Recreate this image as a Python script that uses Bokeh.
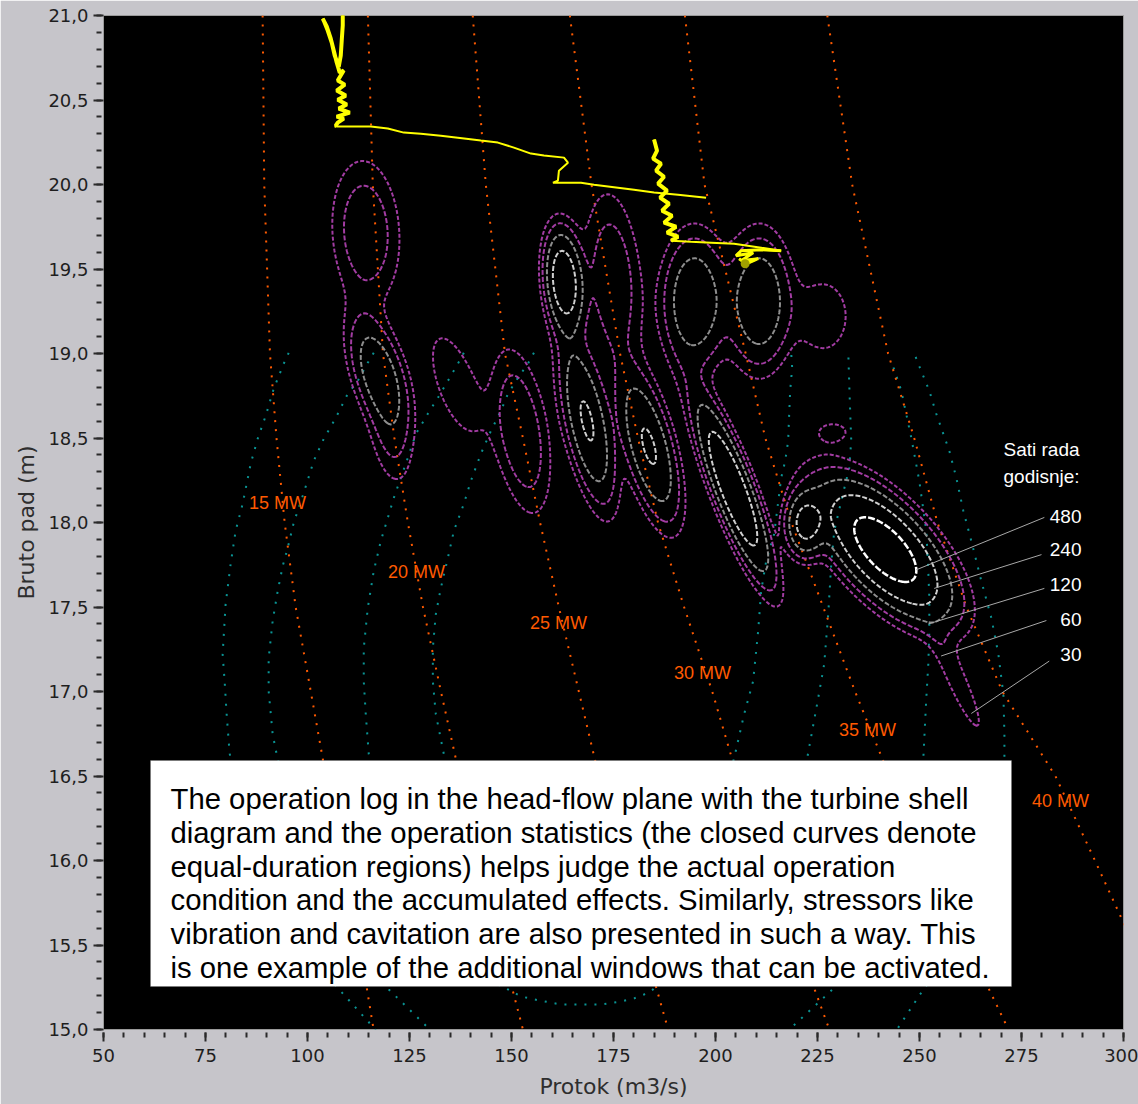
import numpy as np
from bokeh.plotting import figure
from bokeh.plotting.contour import contour_data
from bokeh.models import Range1d, FixedTicker, CustomJSTickFormatter, BoxAnnotation, Label
from bokeh.core.properties import value
from bokeh.embed import file_html
from bokeh.resources import INLINE

# ---------------- data ----------------
x_major = list(range(50, 301, 25))
x_minor = list(range(50, 301, 5))
y_major = [round(15.0 + 0.5 * i, 1) for i in range(13)]
y_minor = [round(15.0 + 0.1 * i, 1) for i in range(61)]

# iso-power lines: flow (m3/s) at given gross heads
power_heads = [21.0, 20.0, 19.0, 18.5, 18.0, 17.5, 17.0, 16.5, 16.0, 15.5, 15.0]
q_15mw = [89.0, 89.4, 90.8, 92.4, 94.4, 97.1, 100.8, 104.5, 108.4, 112.8, 116.2]
q_20mw = [114.8, 116.0, 118.5, 121.3, 124.6, 128.3, 132.7, 137.3, 142.5, 147.4, 152.8]
q_25mw = [140.5, 143.7, 148.4, 152.8, 157.0, 161.6, 166.5, 171.4, 176.8, 182.5, 188.4]
q_30mw = [164.3, 169.6, 176.6, 181.0, 185.9, 192.3, 199.2, 205.3, 212.9, 220.3, 227.9]
q_35mw = [192.5, 197.3, 207.4, 212.2, 218.6, 226.4, 234.2, 242.6, 252.3, 261.8, 271.8]
q_40mw = [227.4, 233.5, 242.3, 248.7, 254.4, 261.5, 270.3, 283.3, 293.0, 302.5, 312.0]
power_labels = ["15 MW", "20 MW", "25 MW", "30 MW", "35 MW", "40 MW"]

# turbine shell (efficiency) curves
shell1_q = [95.39, 94.16, 91.71, 89.75, 87.78, 86.07, 84.10, 82.38, 81.16, 79.93, 79.20, 79.69, 80.18, 80.91,
            86.07, 97.10, 108.88, 115.51, 117.96, 179.29, 241.86, 244.31, 250.94, 262.71, 268.84, 270.81,
            270.81, 270.56, 269.33, 267.62, 265.16, 262.71, 260.75, 259.03, 257.31, 255.84, 254.12, 252.41,
            249.71, 248.48]
shell1_h = [19.004, 18.939, 18.791, 18.631, 18.495, 18.347, 18.110, 17.950, 17.754, 17.517, 17.221, 17.061,
            16.866, 16.635, 15.995, 15.521, 15.207, 15.030, 14.959, 14.692, 14.929, 14.994, 15.237, 15.580,
            16.054, 16.605, 16.747, 16.984, 17.221, 17.434, 17.653, 17.890, 18.068, 18.264, 18.424, 18.524,
            18.643, 18.779, 18.939, 19.016]
shell2_q = [116.24, 114.77, 112.32, 109.86, 106.92, 103.98, 101.52, 99.07, 96.61, 95.14, 93.92, 92.69, 91.46,
            90.48, 90.48, 91.46, 92.44, 98.33, 110.60, 119.92, 130.23, 132.68, 184.20, 216.10, 217.81, 227.63,
            235.72, 245.54, 250.94, 251.67, 252.16, 252.41, 252.41, 252.16, 251.67, 249.95, 247.99, 245.54,
            243.08]
shell2_h = [19.004, 18.945, 18.838, 18.761, 18.619, 18.495, 18.364, 18.175, 17.997, 17.849, 17.742, 17.594,
            17.417, 17.197, 17.002, 16.747, 16.629, 15.995, 15.462, 15.237, 14.994, 14.929, 14.633, 14.929,
            14.994, 15.213, 15.403, 15.877, 16.605, 16.961, 17.162, 17.357, 17.553, 17.713, 17.950, 18.246,
            18.501, 18.779, 18.957]
shell3_q = [138.32, 136.85, 134.40, 131.94, 129.49, 126.55, 124.58, 122.87, 121.15, 119.68, 117.96, 116.24,
            114.77, 113.79, 113.79, 114.28, 115.02, 122.87, 135.13, 149.12, 152.31, 155.50, 162.12, 171.93,
            176.84, 180.03, 182.48, 184.69, 201.38, 216.10, 222.47, 225.17, 226.64, 227.63, 228.37, 229.10,
            230.82, 232.78, 233.27, 233.03, 232.78, 232.53]
shell3_h = [19.004, 18.939, 18.838, 18.737, 18.643, 18.524, 18.382, 18.264, 18.145, 18.027, 17.890, 17.713,
            17.494, 17.257, 17.061, 16.866, 16.629, 15.877, 15.403, 15.237, 15.196, 15.178, 15.148, 15.148,
            15.166, 15.184, 15.207, 15.237, 15.580, 16.054, 16.605, 16.961, 17.162, 17.458, 17.754, 17.950,
            18.127, 18.323, 18.483, 18.643, 18.820, 19.016]
shell4_q = [155.50, 154.02, 151.57, 149.12, 147.40, 144.95, 142.49, 140.04, 138.32, 135.87, 134.40, 132.68,
            131.45, 130.72, 130.72, 131.45, 133.42, 140.04, 154.76, 171.93, 189.11, 200.15, 204.56, 207.02,
            209.22, 210.45, 211.19, 212.42, 214.38, 216.10, 217.08, 217.81, 218.06, 218.30, 218.79, 218.55]
shell4_h = [19.004, 18.939, 18.856, 18.761, 18.660, 18.542, 18.406, 18.246, 18.110, 17.950, 17.790, 17.612,
            17.458, 17.257, 17.061, 16.866, 16.629, 15.995, 15.580, 15.462, 15.729, 16.232, 16.605, 16.866,
            17.061, 17.357, 17.594, 17.772, 17.932, 18.264, 18.364, 18.483, 18.643, 18.779, 18.915, 19.004]

# operating-hours statistics: clusters of operation (centre flow, centre head, peak hours/year,
# spread in flow, spread in head, flow-head correlation)
hot_q = [114.3, 117.5, 120.5, 136.4, 152.3, 162.9, 168.5, 174.9, 183.7, 194.8, 210.7, 226.5, 228.9, 204.3,
         222.0, 241.6, 259.5]
hot_h = [19.72, 18.88, 18.50, 18.82, 18.54, 19.43, 18.60, 19.43, 18.45, 19.31, 19.31, 19.22, 18.54, 18.20,
         17.99, 17.84, 17.05]
hot_hours = [100, 200, 60, 55, 110, 400, 260, 100, 260, 220, 220, 55, 35, 450, 300, 700, 50]
hot_sq = [5.3, 4.3, 3.5, 5.1, 4.45, 2.7, 3.9, 4.4, 4.3, 4.5, 4.5, 4.9, 4.4, 5.3, 2.8, 8.75, 5.0]
hot_sh = [0.27, 0.20, 0.20, 0.245, 0.30, 0.174, 0.286, 0.33, 0.26, 0.23, 0.23, 0.17, 0.064, 0.30, 0.11, 0.22, 0.25]
hot_rho = [-0.1, -0.5, -0.3, -0.6, -0.4, -0.2, -0.6, -0.2, -0.6, 0.0, 0.0, 0.0, 0.0, -0.85, 0.0, -0.65, -0.9]
hour_levels = [30, 60, 120, 240, 480]

# leader lines of the hours legend (from label to contour)
leader_q0 = [280.6, 279.9, 280.6, 281.1, 281.8]
leader_h0 = [18.03, 17.81, 17.61, 17.42, 17.18]
leader_q1 = [249.2, 253.6, 252.2, 255.3, 262.7]
leader_h1 = [17.72, 17.61, 17.40, 17.21, 16.87]

# operation log (flow, head)
log1_q = [108.64, 108.64, 108.39, 108.15, 107.66, 106.67, 105.94, 104.96, 103.98, 103.73, 104.71, 105.69,
          106.43, 107.16, 107.90, 108.88, 107.41, 109.13, 107.16, 109.37, 107.41, 109.62, 107.66, 110.35,
          107.16, 108.88, 107.41, 106.92, 107.16, 115.51, 119.68, 123.60, 127.77, 132.68, 136.85, 142.49,
          146.66, 150.59, 154.76, 157.95, 162.86, 163.84, 161.63, 161.38, 160.16, 167.03, 170.22, 176.10,
          180.03, 184.94, 190.82, 197.69]
log1_h = [21.006, 20.941, 20.852, 20.763, 20.698, 20.763, 20.840, 20.911, 20.970, 20.982, 20.935, 20.864,
          20.793, 20.722, 20.662, 20.674, 20.615, 20.591, 20.556, 20.526, 20.502, 20.473, 20.449, 20.425,
          20.402, 20.390, 20.366, 20.348, 20.343, 20.343, 20.331, 20.307, 20.301, 20.289, 20.277, 20.260,
          20.248, 20.218, 20.183, 20.171, 20.159, 20.129, 20.082, 20.023, 20.011, 20.011, 19.999, 19.981,
          19.969, 19.952, 19.940, 19.922]
log2_q = [184.94, 185.67, 184.69, 186.65, 185.43, 187.39, 185.92, 188.13, 186.41, 188.62, 186.90, 189.35,
          187.39, 190.33, 188.13, 190.82, 189.11, 194.01, 198.92, 204.56, 211.19, 216.10, 211.19, 206.28,
          205.05, 209.22, 206.28, 210.45, 207.51, 205.79]
log2_h = [20.266, 20.200, 20.153, 20.123, 20.082, 20.046, 20.005, 19.964, 19.922, 19.886, 19.845, 19.815,
          19.774, 19.750, 19.715, 19.691, 19.667, 19.661, 19.656, 19.650, 19.626, 19.608, 19.614, 19.608,
          19.579, 19.596, 19.549, 19.561, 19.531, 19.561]
log_now_q = [207.26]
log_now_h = [19.531]

note_lines = [
    "The operation log in the head-flow plane with the turbine shell",
    "diagram and the operation statistics (the closed curves denote",
    "equal-duration regions) helps judge the actual operation",
    "condition and the accumulated effects. Similarly, stressors like",
    "vibration and cavitation are also presented in such a way. This",
    "is one example of the additional windows that can be activated.",
]

# ---------------- layout helpers (screen px -> data) ----------------
FL, FR, FT, FB = 103, 1123, 15, 1029


def px_q(px):
    return 50 + (px - FL) * 250.0 / (FR - FL)


def py_h(py):
    return 21 - (py - FT) * 6.0 / (FB - FT)


p = figure(width=1138, height=1104, x_range=Range1d(50, 300), y_range=Range1d(15, 21),
           output_backend="svg", toolbar_location=None,
           min_border_left=103, min_border_right=15, min_border_top=15, min_border_bottom=75,
           background_fill_color="#000000", border_fill_color="#c6c5ca",
           outline_line_color="#9a9a9a", outline_line_width=1)
p.grid.visible = False

# shell curves
teal = "#0a9494"
for sq_, sh_ in [(shell1_q, shell1_h), (shell2_q, shell2_h), (shell3_q, shell3_h), (shell4_q, shell4_h)]:
    p.line(sq_, sh_, line_color=teal, line_width=2, line_dash="2 8")

# iso-power lines
orange = "#ff5a00"
for qs in [q_15mw, q_20mw, q_25mw, q_30mw, q_35mw, q_40mw]:
    p.line(qs, power_heads, line_color=orange, line_width=2, line_dash="2 7")

# operating-hours contours
qg = np.linspace(50, 300, 626)
hg = np.linspace(15, 21, 601)
Qm, Hm = np.meshgrid(qg, hg)
Z = np.zeros_like(Qm)
for q0, h0, a, sq, sh, r in zip(hot_q, hot_h, hot_hours, hot_sq, hot_sh, hot_rho):
    dq = (Qm - q0) / sq
    dh = (Hm - h0) / sh
    m = (dq * dq - 2 * r * dq * dh + dh * dh) / (1 - r * r)
    Z += a * np.exp(-0.5 * m)

cd = contour_data(qg, hg, Z, hour_levels, want_fill=False, want_line=True)
level_style = {
    30: ("#a23ca2", 2, "4 2"),
    60: ("#a23ca2", 2, "5 2"),
    120: ("#8e8e8e", 2, "5 2"),
    240: ("#d0d0d0", 2, "5 2"),
    480: ("#ffffff", 2.5, "7 2"),
}
for xs, ys, lev in zip(cd.line_data.xs, cd.line_data.ys, cd.line_data.levels):
    xs = np.asarray(xs, dtype=float)
    ys = np.asarray(ys, dtype=float)
    if xs.size == 0:
        continue
    col, lw, dash = level_style[int(round(float(lev)))]
    p.line(xs, ys, line_color=col, line_width=lw, line_dash=dash)

# operation log
p.line(log1_q, log1_h, line_color="#ffff00", line_width=2)
p.line(log2_q, log2_h, line_color="#ffff00", line_width=2)
p.line(log1_q[:29], log1_h[:29], line_color="#ffff00", line_width=4)
p.line(log2_q[:17], log2_h[:17], line_color="#ffff00", line_width=4)
p.line(log2_q[21:], log2_h[21:], line_color="#ffff00", line_width=3)
p.scatter(log_now_q, log_now_h, size=9, fill_color="#a0a000", line_color=None)

# legend of hours
p.segment(leader_q0, leader_h0, leader_q1, leader_h1, line_color="#a8a8a8", line_width=1)
p.text(x=[px_q(1081)] * 5, y=[py_h(v) for v in [516, 549, 584, 619, 654]],
       text=[str(v) for v in reversed(hour_levels)],
       text_align="right", text_baseline="middle", text_color="white",
       text_font=value("Liberation Sans"), text_font_size="19px")
for txt, yy in [("Sati rada", 449), ("godisnje:", 476)]:
    p.add_layout(Label(x=px_q(1003), y=py_h(yy), text=txt, text_align="left", text_baseline="middle",
                       text_color="white", text_font="Liberation Sans", text_font_size="19px"))

# power labels
lab_pos = [(277, 502), (416, 571), (558, 622), (702, 672), (867, 729), (1060, 800)]
for txt, (lx, ly) in zip(power_labels, lab_pos):
    p.add_layout(Label(x=px_q(lx), y=py_h(ly), text=txt, text_align="center", text_baseline="middle",
                       text_color=orange, text_font="Liberation Sans", text_font_size="18px"))

# note box
p.add_layout(BoxAnnotation(left=px_q(150), right=px_q(1011), top=py_h(760), bottom=py_h(986),
                           fill_color="white", fill_alpha=1.0, line_color="#707070", line_width=1))
for i, line in enumerate(note_lines):
    p.add_layout(Label(x=px_q(170), y=py_h(798 + 33.8 * i), text=line, text_align="left",
                       text_baseline="alphabetic", text_color="black",
                       text_font="Liberation Sans", text_font_size="29.3px"))

# axes
p.xaxis.ticker = FixedTicker(ticks=x_major, minor_ticks=x_minor)
p.yaxis.ticker = FixedTicker(ticks=y_major, minor_ticks=y_minor)
p.yaxis.formatter = CustomJSTickFormatter(code="return tick.toFixed(1).replace('.', ',');")
p.xaxis.axis_label = "Protok (m3/s)"
p.yaxis.axis_label = "Bruto pad (m)"
for ax in (p.xaxis[0], p.yaxis[0]):
    ax.axis_line_color = None
    ax.major_tick_line_color = "#2a2a2a"
    ax.minor_tick_line_color = "#2a2a2a"
    ax.major_tick_line_width = 2
    ax.minor_tick_line_width = 2
    ax.major_label_text_font = "DejaVu Sans"
    ax.major_label_text_font_size = "18px"
    ax.major_label_text_color = "#1e1e1e"
    ax.axis_label_text_font = "DejaVu Sans"
    ax.axis_label_text_font_size = "22px"
    ax.axis_label_text_font_style = "normal"
    ax.axis_label_text_color = "#2e2e2e"
p.xaxis.major_tick_in = -3
p.xaxis.major_tick_out = 12
p.xaxis.minor_tick_in = -3
p.xaxis.minor_tick_out = 8
p.xaxis.major_label_standoff = 7
p.xaxis.axis_label_standoff = 9
p.yaxis.major_tick_in = 0
p.yaxis.major_tick_out = 10
p.yaxis.minor_tick_in = -2
p.yaxis.minor_tick_out = 7
p.yaxis.major_label_standoff = 5
p.yaxis.axis_label_standoff = 6

open("out.html", "w").write(file_html(p, INLINE))
